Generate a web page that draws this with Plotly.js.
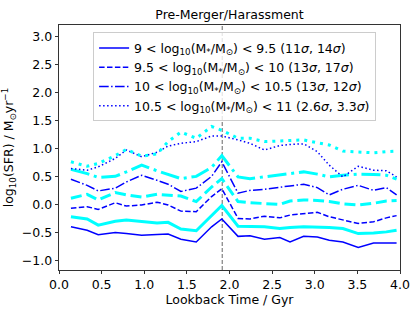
<!DOCTYPE html>
<html>
<head>
<meta charset="utf-8">
<script src="https://cdn.plot.ly/plotly-3.0.1.min.js"></script>
<style>html,body{margin:0;padding:0;background:#fff;}#chart{width:415px;height:317px;}</style>
</head>
<body>
<div id="chart"></div>
<script>
// Lookback time (Gyr)
const times = [0.14, 0.33, 0.46, 0.66, 0.79, 0.97, 1.15, 1.28, 1.43, 1.61, 1.79, 1.91,
               2.10, 2.24, 2.41, 2.59, 2.71, 2.87, 3.03, 3.17, 3.33, 3.51, 3.69, 3.84, 3.96];
const mergerTime = 1.915;

// 9 < logM < 9.5
const m1Blue = [-0.40, -0.46, -0.54, -0.50, -0.52, -0.55, -0.535, -0.53, -0.62, -0.67, -0.40, -0.26,
                -0.57, -0.56, -0.62, -0.59, -0.67, -0.57, -0.58, -0.64, -0.67, -0.77, -0.69, -0.69, -0.69];
const m1Cyan = [-0.22, -0.26, -0.37, -0.30, -0.28, -0.31, -0.33, -0.32, -0.44, -0.47, -0.19, -0.02,
                -0.39, -0.40, -0.40, -0.43, -0.41, -0.40, -0.40, -0.41, -0.43, -0.52, -0.51, -0.49, -0.46];
// 9.5 < logM < 10
const m2Blue = [-0.07, -0.04, -0.09, 0.03, -0.03, -0.01, 0.04, -0.01, -0.12, -0.13, 0.14, 0.28,
                -0.25, -0.26, -0.21, -0.24, -0.19, -0.17, -0.14, -0.22, -0.28, -0.34, -0.31, -0.24, -0.20];
const m2Cyan = [0.11, 0.18, 0.08, 0.21, 0.17, 0.13, 0.18, 0.16, 0.15, 0.05, 0.31, 0.46,
                0.05, 0.03, 0.01, 0.00, 0.06, 0.08, 0.07, 0.05, 0.01, -0.01, 0.02, 0.06, 0.07];
// 10 < logM < 10.5
const m3Blue = [0.45, 0.34, 0.24, 0.29, 0.40, 0.52, 0.43, 0.36, 0.23, 0.29, 0.50, 0.76,
                0.20, 0.25, 0.27, 0.30, 0.33, 0.36, 0.30, 0.17, 0.27, 0.34, 0.25, 0.30, 0.17];
const m3Cyan = [0.625, 0.55, 0.48, 0.50, 0.58, 0.70, 0.60, 0.54, 0.46, 0.50, 0.66, 0.87,
                0.49, 0.46, 0.49, 0.52, 0.55, 0.58, 0.54, 0.49, 0.52, 0.54, 0.535, 0.52, 0.45];
// 10.5 < logM < 11
const m4Blue = [0.64, 0.61, 0.67, 0.82, 0.97, 0.85, 0.93, 1.04, 1.09, 1.12, 1.22, 1.22,
                1.15, 1.09, 0.97, 1.05, 1.07, 1.08, 0.94, 0.70, 0.49, 0.68, 0.61, 0.60, 0.49];
const m4Cyan = [0.76, 0.68, 0.73, 0.87, 0.98, 0.86, 0.90, 1.12, 1.29, 1.18, 1.39, 1.32,
                1.18, 1.18, 1.12, 1.13, 1.13, 1.15, 1.10, 1.06, 0.95, 0.93, 0.92, 0.94, 0.95];

const legendNames = [
  '9 < log<sub>10</sub>(M<sub>*</sub>/M<sub>⊙</sub>) < 9.5 (11<i>σ</i>, 14<i>σ</i>)',
  '9.5 < log<sub>10</sub>(M<sub>*</sub>/M<sub>⊙</sub>) < 10 (13<i>σ</i>, 17<i>σ</i>)',
  '10 < log<sub>10</sub>(M<sub>*</sub>/M<sub>⊙</sub>) < 10.5 (13<i>σ</i>, 12<i>σ</i>)',
  '10.5 < log<sub>10</sub>(M<sub>*</sub>/M<sub>⊙</sub>) < 11 (2.6<i>σ</i>, 3.3<i>σ</i>)'
];

const BLUE = '#0000ff', CYAN = '#00ffff';
const blueDash = ['solid', '5.5px,2.4px', '9.6px,2.4px,1.5px,2.4px', '1.5px,2.5px'];
const cyanDash = ['solid', '11px,4.8px', '19px,4.8px,3px,4.8px', '3px,5px'];
const blueSeries = [m1Blue, m2Blue, m3Blue, m4Blue];
const cyanSeries = [m1Cyan, m2Cyan, m3Cyan, m4Cyan];

const traces = [];
for (let i = 0; i < 4; i++) {
  traces.push({x: times, y: blueSeries[i], mode: 'lines', name: legendNames[i],
    line: {color: BLUE, width: 1.5, dash: blueDash[i]}, showlegend: true});
  traces.push({x: times, y: cyanSeries[i], mode: 'lines', name: 'cyan' + i,
    line: {color: CYAN, width: 3, dash: cyanDash[i]}, showlegend: false});
}

const FONT = 'DejaVu Sans, sans-serif';
const FS = 12.5;
const layout = {
  width: 415, height: 317,
  margin: {l: 59, r: 15, t: 25, b: 47},
  paper_bgcolor: '#fff', plot_bgcolor: '#fff',
  font: {family: FONT, size: FS, color: '#000'},
  title: {text: 'Pre-Merger/Harassment', font: {family: FONT, size: FS, color: '#000'},
          x: 0.5, xref: 'paper', y: 0.955, yanchor: 'middle'},
  xaxis: {range: [0, 4], dtick: 0.5, tick0: 0, tickformat: '.1f',
          ticks: 'outside', ticklen: 3.5, tickwidth: 0.8, tickcolor: '#000',
          showline: true, linecolor: '#000', linewidth: 0.8, mirror: true,
          showgrid: false, zeroline: false,
          title: {text: 'Lookback Time / Gyr', font: {family: FONT, size: FS}, standoff: 3}},
  yaxis: {range: [-1.17, 3.2], dtick: 0.5, tick0: 0, tickformat: '.1f',
          ticks: 'outside', ticklen: 3.5, tickwidth: 0.8, tickcolor: '#000',
          showline: true, linecolor: '#000', linewidth: 0.8, mirror: true,
          showgrid: false, zeroline: false,
          title: {text: 'log<sub>10</sub>(SFR) / M<sub>⊙</sub>yr<sup>−1</sup>', font: {family: FONT, size: FS}, standoff: 5}},
  legend: {x: 0.1, y: 0.97, xanchor: 'left', yanchor: 'top',
           bgcolor: 'rgba(255,255,255,0.8)', bordercolor: '#cccccc', borderwidth: 1,
           font: {family: FONT, size: FS, color: '#000'}, tracegroupgap: 0},
  shapes: [{type: 'line', xref: 'x', yref: 'paper', x0: mergerTime, x1: mergerTime, y0: 0, y1: 1,
            line: {color: '#808080', width: 1.2, dash: '4px,2px'}, layer: 'below'}],
  showlegend: true
};

Plotly.newPlot('chart', traces, layout, {staticPlot: true, displayModeBar: false});
</script>
</body>
</html>
